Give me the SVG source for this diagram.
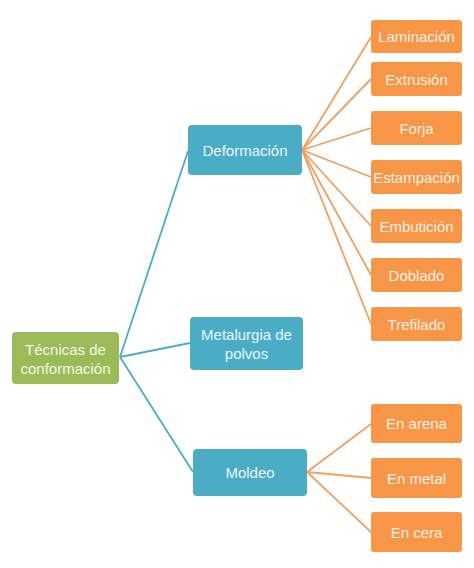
<svg xmlns="http://www.w3.org/2000/svg" width="474" height="568" viewBox="0 0 474 568">
<style>
.g{fill:#9BBB59}
.b{fill:#4BACC6}
.o{fill:#F79646}
text{font-family:"Liberation Sans",Arial,sans-serif;font-size:15px;text-anchor:middle;dominant-baseline:central}
.tg{fill:#F3F7EA}
.tb{fill:#EAF6F9}
.to{fill:#FEF1E8}
.cb{stroke:#4BACC6;stroke-width:1.8;fill:none}
.co{stroke:#F0A060;stroke-width:1.8;fill:none}
</style>
<rect width="474" height="568" fill="#FFFFFF"/>
<g id="connectors">
<path class="cb" d="M120 357 L188 151"/>
<path class="cb" d="M120 357 L190 343"/>
<path class="cb" d="M120 357 L193 472"/>
<path class="co" d="M302 150 L371 37"/>
<path class="co" d="M302 150 L371 79"/>
<path class="co" d="M302 150 L371 128"/>
<path class="co" d="M302 150 L371 177"/>
<path class="co" d="M302 150 L371 226"/>
<path class="co" d="M302 150 L371 275"/>
<path class="co" d="M302 150 L371 324"/>
<path class="co" d="M307 472 L371 424"/>
<path class="co" d="M307 472 L371 478"/>
<path class="co" d="M307 472 L371 532"/>
</g>
<g id="root"><rect class="g" x="12" y="332" width="107" height="52" rx="4"/><text class="tg" x="65.5" y="349">Técnicas de</text><text class="tg" x="65.5" y="368">conformación</text></g>
<g id="deformacion"><rect class="b" x="188" y="125" width="114" height="50" rx="4"/><text class="tb" x="245" y="150">Deformación</text></g>
<g id="metalurgia"><rect class="b" x="190" y="317" width="113" height="53" rx="4"/><text class="tb" x="246.5" y="334">Metalurgia de</text><text class="tb" x="246.5" y="353">polvos</text></g>
<g id="moldeo"><rect class="b" x="193" y="449" width="114" height="47" rx="4"/><text class="tb" x="250" y="472">Moldeo</text></g>
<g id="laminacion"><rect class="o" x="371" y="20" width="91" height="33" rx="3"/><text class="to" x="416.5" y="36.5">Laminación</text></g>
<g id="extrusion"><rect class="o" x="371" y="62" width="91" height="34" rx="3"/><text class="to" x="416.5" y="79">Extrusión</text></g>
<g id="forja"><rect class="o" x="371" y="111" width="91" height="34" rx="3"/><text class="to" x="416.5" y="128">Forja</text></g>
<g id="estampacion"><rect class="o" x="371" y="160" width="91" height="34" rx="3"/><text class="to" x="416.5" y="177">Estampación</text></g>
<g id="embuticion"><rect class="o" x="371" y="209" width="91" height="34" rx="3"/><text class="to" x="416.5" y="226">Embutición</text></g>
<g id="doblado"><rect class="o" x="371" y="258" width="91" height="34" rx="3"/><text class="to" x="416.5" y="275">Doblado</text></g>
<g id="trefilado"><rect class="o" x="371" y="307" width="91" height="34" rx="3"/><text class="to" x="416.5" y="324">Trefilado</text></g>
<g id="arena"><rect class="o" x="371" y="404" width="91" height="39" rx="3"/><text class="to" x="416.5" y="423.5">En arena</text></g>
<g id="metal"><rect class="o" x="371" y="458" width="91" height="40" rx="3"/><text class="to" x="416.5" y="478">En metal</text></g>
<g id="cera"><rect class="o" x="371" y="512" width="91" height="40" rx="3"/><text class="to" x="416.5" y="532">En cera</text></g>
</svg>
